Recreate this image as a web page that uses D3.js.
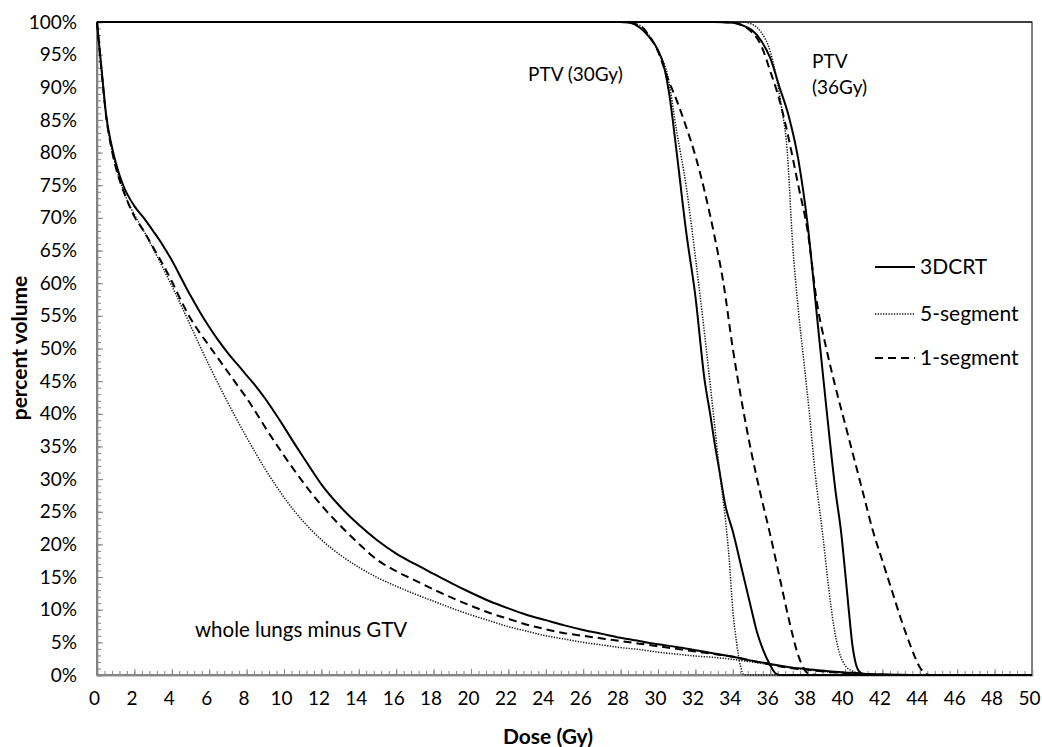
<!DOCTYPE html>
<html>
<head>
<meta charset="utf-8">
<script src="https://cdn.jsdelivr.net/npm/d3@7"></script>
<style>
  html, body { margin: 0; padding: 0; background: #fff; }
  svg text { font-family: Lato, "Open Sans", sans-serif; fill: #000; }
</style>
</head>
<body>
<svg id="chart" width="1042" height="747"></svg>
<script>
// Dose-volume histograms: [dose (Gy), percent volume]
const lung3DCRT = [[0,100],[0.1,97],[0.25,92.6],[0.5,85.5],[0.75,81.5],[1,78.5],[1.4,75],[2,71.8],[2.5,70],[3,68],[3.5,65.9],[4,63.5],[4.5,60.8],[5,58.1],[5.5,55.6],[6,53.3],[6.5,51.2],[7,49.3],[7.5,47.6],[8,45.9],[8.5,44.2],[9,42.3],[9.5,40.2],[10,38],[10.5,35.7],[11,33.5],[11.5,31.3],[12,29.2],[13,25.8],[14,23],[15,20.6],[16,18.6],[17,17],[18,15.5],[19,14],[20,12.6],[21,11.3],[22,10.2],[23,9.2],[24,8.4],[25,7.6],[26,6.9],[27,6.3],[28,5.7],[29,5.2],[30,4.7],[31,4.3],[32,3.8],[33,3.3],[34,2.8],[35,2.2],[36,1.7],[37,1.2],[38,0.9],[39,0.6],[40,0.4],[41,0.2],[42,0.1],[43,0.03],[44,0],[50,0]];
const lung5Seg = [[0,100],[0.1,96.8],[0.25,92.3],[0.5,85.3],[0.75,81],[1,78],[1.5,73.5],[2,70.5],[2.5,68],[3,65.3],[3.5,62.5],[4,59.6],[4.5,56.6],[5,53.5],[5.5,50.4],[6,47.4],[6.5,44.5],[7,41.7],[7.5,39],[8,36.4],[8.5,33.9],[9,31.5],[9.5,29.3],[10,27.2],[11,23.6],[12,20.7],[13,18.4],[14,16.5],[15,14.9],[16,13.6],[17,12.4],[18,11.3],[19,10.2],[20,9.2],[21,8.3],[22,7.4],[23,6.7],[24,6],[25,5.5],[26,5],[27,4.6],[28,4.2],[29,3.9],[30,3.5],[31,3.2],[32,2.9],[33,2.7],[34,2.4],[35,2],[36,1.6],[37,1.2],[38,0.8],[39,0.5],[40,0.3],[41,0.1],[42,0],[50,0]];
const lung1Seg = [[0,100],[0.1,96.8],[0.25,92.3],[0.5,85.3],[0.75,81],[1,77.8],[1.5,73.5],[2,70.2],[2.5,68],[3,65.5],[3.5,63],[4,60.3],[4.5,57.3],[5,54.6],[5.5,52.4],[6,50.4],[6.5,48.4],[7,46.4],[7.5,44.4],[8,42.4],[8.5,40.2],[9,37.9],[9.5,35.7],[10,33.6],[11,29.6],[12,26],[13,22.9],[14,20.1],[15,17.6],[16,15.9],[17,14.5],[18,13.1],[19,11.8],[20,10.6],[21,9.5],[22,8.6],[23,7.7],[24,7],[25,6.4],[26,6],[27,5.6],[28,5.2],[29,4.8],[30,4.4],[31,4],[32,3.6],[33,3.2],[34,2.8],[35,2.2],[36,1.6],[37,1.1],[38,0.8],[39,0.5],[40,0.3],[41,0.15],[42,0.05],[43,0],[50,0]];

const ptv30_3DCRT = [[0,100],[28,100],[28.5,99.9],[29,99.2],[29.5,97.8],[30,95.7],[30.3,93.4],[30.6,89],[31,80],[31.5,68],[32,58],[32.5,45],[32.8,39.8],[33,36],[33.3,31],[33.6,26],[34,22],[34.5,16],[35,10],[35.3,6.5],[35.6,4],[36,1.5],[36.3,0.2],[36.5,0],[50,0]];
const ptv30_5Seg = [[0,100],[28,100],[29,99.5],[29.5,98],[30,95.5],[30.5,92],[31,83.2],[31.5,75],[32,64],[32.5,52],[33,39],[33.3,31],[33.6,24],[33.8,18],[34,10],[34.2,5],[34.4,1.5],[34.6,0],[50,0]];
const ptv30_1Seg = [[0,100],[28,100],[29,99.5],[29.5,98],[30,95.5],[30.5,91.5],[31,88],[31.5,84],[32,79.5],[32.5,74],[33,67.5],[33.5,60],[34,50],[34.5,41.5],[35,34],[35.5,27.5],[36,21.5],[36.5,15],[37,8.5],[37.5,3],[37.8,1],[38,0.3],[38.5,0],[50,0]];

const ptv36_3DCRT = [[0,100],[33,100],[34,99.9],[34.5,99.5],[35,98.8],[35.5,97.2],[36,94.5],[36.5,90],[37,85.5],[37.5,79],[38,69],[38.5,55],[39,41],[39.5,28],[39.8,21.7],[40,16],[40.2,10],[40.4,4.5],[40.6,1.5],[40.8,0.4],[41,0.1],[41.5,0],[50,0]];
const ptv36_5Seg = [[0,100],[34.5,100],[35,99.7],[35.5,98.5],[36,95.5],[36.3,92],[36.6,87],[36.9,80.6],[37.2,66],[37.5,56],[37.8,48],[38.1,40],[38.4,31],[38.8,21.7],[39.1,14],[39.4,7.5],[39.7,3.4],[40,1.5],[40.4,0.6],[40.8,0.3],[41.5,0],[50,0]];
const ptv36_1Seg = [[0,100],[33,100],[34,99.9],[34.5,99.5],[35,98.5],[35.5,96.5],[36,92.5],[36.5,88],[37,82],[37.5,75],[38,68],[38.5,57],[39,50],[39.5,44],[40,38.5],[40.5,33],[41,27.5],[41.5,22],[42,17.5],[42.5,13],[43,8.5],[43.5,4.5],[44,1.2],[44.3,0.2],[44.5,0],[50,0]];

const xMajorTicks = d3.range(0, 51, 2);
const yMajorTicks = d3.range(0, 101, 5);
const legendLabels = ["3DCRT", "5-segment", "1-segment"];
const annotations = ["PTV (30Gy)", "PTV", "(36Gy)", "whole lungs minus GTV"];

const styles = {
  "3DCRT":     { width: 2,   dash: null,      color: "#000" },
  "5-segment": { width: 1.5, dash: "1.3,1.4", color: "#111" },
  "1-segment": { width: 2,   dash: "8,5",     color: "#000" }
};

const series = [
  { data: lung3DCRT,   plan: "3DCRT" },
  { data: lung5Seg,    plan: "5-segment" },
  { data: lung1Seg,    plan: "1-segment" },
  { data: ptv30_3DCRT, plan: "3DCRT" },
  { data: ptv30_5Seg,  plan: "5-segment" },
  { data: ptv30_1Seg,  plan: "1-segment" },
  { data: ptv36_3DCRT, plan: "3DCRT" },
  { data: ptv36_5Seg,  plan: "5-segment" },
  { data: ptv36_1Seg,  plan: "1-segment" }
];

const margin = { left: 97, top: 22, right: 1032, bottom: 675 };
const svg = d3.select("#chart");

const x = d3.scaleLinear().domain([0, 50]).range([margin.left, margin.right]);
const y = d3.scaleLinear().domain([0, 100]).range([margin.bottom, margin.top]);

const axisGray = "#868686";

// plot-area frame
svg.append("rect")
  .attr("x", margin.left).attr("y", margin.top)
  .attr("width", margin.right - margin.left).attr("height", margin.bottom - margin.top)
  .attr("fill", "none").attr("stroke", "#000").attr("stroke-width", 1);

// minor ticks
const yMinor = svg.append("g").attr("transform", `translate(${margin.left},0)`)
  .call(d3.axisLeft(y).tickValues(d3.range(0, 101, 1)).tickSize(-4).tickFormat(""));
const xMinor = svg.append("g").attr("transform", `translate(0,${margin.bottom})`)
  .call(d3.axisBottom(x).tickValues(d3.range(0, 50.01, 0.4)).tickSize(-4).tickFormat(""));

// major ticks with labels
const yAxis = svg.append("g").attr("transform", `translate(${margin.left},0)`)
  .call(d3.axisLeft(y).tickValues(yMajorTicks).tickSize(-6).tickPadding(20)
    .tickFormat(d => d + "%"));
const xAxis = svg.append("g").attr("transform", `translate(0,${margin.bottom})`)
  .call(d3.axisBottom(x).tickValues(xMajorTicks).tickSize(-6).tickPadding(17)
    .tickFormat(d3.format("d")));

[yMinor, xMinor, yAxis, xAxis].forEach(g => {
  g.select(".domain").attr("stroke", axisGray).attr("stroke-width", 1.3);
  g.selectAll(".tick line").attr("stroke", axisGray).attr("stroke-width", 1);
  g.selectAll(".tick text").attr("font-size", 19).attr("fill", "#000")
    .style("font-family", "Lato, sans-serif");
});
xAxis.selectAll(".tick text").attr("dx", -3);

// DVH curves
const line = d3.line()
  .x(d => x(d[0])).y(d => y(d[1]))
  .curve(d3.curveMonotoneX);

svg.append("g").selectAll("path").data(series).join("path")
  .attr("d", d => line(d.data))
  .attr("fill", "none")
  .attr("stroke", d => styles[d.plan].color)
  .attr("stroke-width", d => styles[d.plan].width)
  .attr("stroke-dasharray", d => styles[d.plan].dash)
  .attr("stroke-linejoin", "round");

// top frame edge on top of curves
svg.append("line")
  .attr("x1", margin.left).attr("x2", margin.right)
  .attr("y1", margin.top).attr("y2", margin.top)
  .attr("stroke", "#000").attr("stroke-width", 1.2);

// structure labels
svg.append("text").attr("x", 528).attr("y", 81).attr("font-size", 19).text(annotations[0]);
svg.append("text").attr("x", 812).attr("y", 68).attr("font-size", 19).text(annotations[1]);
svg.append("text").attr("x", 812).attr("y", 94).attr("font-size", 19).text(annotations[2]);
svg.append("text").attr("x", 195).attr("y", 637).attr("font-size", 20.5).text(annotations[3]);

// legend
const legend = svg.append("g");
const legendY = [267, 314, 358];
legendLabels.forEach((name, i) => {
  const s = styles[name];
  legend.append("line")
    .attr("x1", 875).attr("x2", 915)
    .attr("y1", legendY[i]).attr("y2", legendY[i])
    .attr("stroke", s.color).attr("stroke-width", s.width)
    .attr("stroke-dasharray", s.dash);
  legend.append("text")
    .attr("x", 920).attr("y", legendY[i]).attr("dy", "0.35em")
    .attr("font-size", 21).text(name);
});

// axis titles
svg.append("text")
  .attr("transform", `translate(27,348) rotate(-90)`)
  .attr("text-anchor", "middle").attr("font-weight", "bold").attr("font-size", 21)
  .text("percent volume");
svg.append("text")
  .attr("x", 548).attr("y", 744)
  .attr("text-anchor", "middle").attr("font-weight", "bold").attr("font-size", 21)
  .text("Dose (Gy)");
</script>
</body>
</html>
